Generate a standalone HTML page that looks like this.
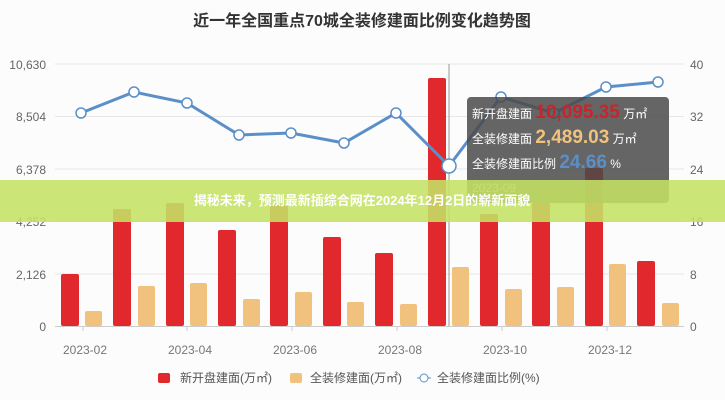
<!DOCTYPE html>
<html><head><meta charset="utf-8"><style>
body{margin:0;background:#fff;}
svg text{font-family:"Liberation Sans","Noto Sans CJK SC",sans-serif;}
</style></head><body>
<svg width="725" height="400" viewBox="0 0 725 400" xmlns="http://www.w3.org/2000/svg">
<rect width="725" height="400" fill="#fcfcfd"/>
<text x="362" y="26" text-anchor="middle" font-size="16" font-weight="bold" fill="#333">近一年全国重点70城全装修建面比例变化趋势图</text>
<g stroke="#e6e6e6" stroke-width="1">
<line x1="55" y1="64" x2="684" y2="64"/><line x1="55" y1="116.5" x2="684" y2="116.5"/>
<line x1="55" y1="169" x2="684" y2="169"/><line x1="55" y1="221.5" x2="684" y2="221.5"/>
<line x1="55" y1="274" x2="684" y2="274"/>
</g>
<line x1="55" y1="326.5" x2="684" y2="326.5" stroke="#ccc"/>
<g stroke="#ccc"><line x1="83" y1="326" x2="83" y2="331"/><line x1="187" y1="326" x2="187" y2="331"/><line x1="292" y1="326" x2="292" y2="331"/><line x1="397" y1="326" x2="397" y2="331"/><line x1="502" y1="326" x2="502" y2="331"/><line x1="607" y1="326" x2="607" y2="331"/></g>
<g font-size="12" fill="#666" text-anchor="end">
<text x="46" y="69">10,630</text><text x="46" y="121">8,504</text><text x="46" y="174">6,378</text><text x="46" y="226">4,252</text><text x="46" y="279">2,126</text><text x="46" y="331">0</text>
</g>
<g font-size="12" fill="#666" text-anchor="start">
<text x="690" y="69">40</text><text x="690" y="121">32</text><text x="690" y="174">24</text><text x="690" y="226">16</text><text x="690" y="279">8</text><text x="690" y="331">0</text>
</g>
<g font-size="12" fill="#777" text-anchor="middle">
<text x="85" y="354">2023-02</text><text x="190" y="354">2023-04</text><text x="295" y="354">2023-06</text><text x="400" y="354">2023-08</text><text x="505" y="354">2023-10</text><text x="610" y="354">2023-12</text>
</g>
<g fill="#e0282d">
<rect x="61" y="274" width="18" height="52" rx="2"/><rect x="113" y="209" width="18" height="117" rx="2"/>
<rect x="166" y="203" width="18" height="123" rx="2"/><rect x="218" y="230" width="18" height="96" rx="2"/>
<rect x="270" y="205" width="18" height="121" rx="2"/><rect x="323" y="237" width="18" height="89" rx="2"/>
<rect x="375" y="253" width="18" height="73" rx="2"/><rect x="428" y="78" width="18" height="248" rx="2"/>
<rect x="480" y="214" width="18" height="112" rx="2"/><rect x="532" y="203" width="18" height="123" rx="2"/>
<rect x="585" y="168" width="18" height="158" rx="2"/><rect x="637" y="261" width="18" height="65" rx="2"/>
</g>
<g fill="#f1c27d">
<rect x="85" y="311" width="17" height="15" rx="2"/><rect x="138" y="286" width="17" height="40" rx="2"/>
<rect x="190" y="283" width="17" height="43" rx="2"/><rect x="243" y="299" width="17" height="27" rx="2"/>
<rect x="295" y="292" width="17" height="34" rx="2"/><rect x="347" y="302" width="17" height="24" rx="2"/>
<rect x="400" y="304" width="17" height="22" rx="2"/><rect x="452" y="267" width="17" height="59" rx="2"/>
<rect x="505" y="289" width="17" height="37" rx="2"/><rect x="557" y="287" width="17" height="39" rx="2"/>
<rect x="609" y="264" width="17" height="62" rx="2"/><rect x="662" y="303" width="17" height="23" rx="2"/>
</g>
<line x1="449" y1="64" x2="449" y2="326" stroke="#999" stroke-width="1"/>
<polyline fill="none" stroke="#5b8fc7" stroke-width="3" points="81,113 134,92 187,103 239,135 291,133 344,143 396,113 449,166 501,97 554,113 606,87 658,82"/>
<g fill="#fff" stroke="#5b8fc7" stroke-width="1.5">
<circle cx="81" cy="113" r="5"/><circle cx="134" cy="92" r="5"/><circle cx="187" cy="103" r="5"/><circle cx="239" cy="135" r="5"/><circle cx="291" cy="133" r="5"/><circle cx="344" cy="143" r="5"/><circle cx="396" cy="113" r="5"/><circle cx="449" cy="166" r="7"/><circle cx="501" cy="97" r="5"/><circle cx="554" cy="113" r="5"/><circle cx="606" cy="87" r="5"/><circle cx="658" cy="82" r="5"/>
</g>
<rect x="467" y="97" width="202" height="106" rx="4" fill="#4a4a4a" fill-opacity="0.85"/>
<text x="472" y="118" font-size="12" fill="#fff">新开盘建面 <tspan font-size="19" font-weight="bold" fill="#c7252b">10,095.35</tspan> 万㎡</text>
<text x="472" y="143" font-size="12" fill="#fff">全装修建面 <tspan font-size="19" font-weight="bold" fill="#f1c27d">2,489.03</tspan> 万㎡</text>
<text x="472" y="168" font-size="12" fill="#fff">全装修建面比例 <tspan font-size="19" font-weight="bold" fill="#5b8fc7">24.66</tspan> %</text>
<text x="472" y="192" font-size="12" fill="#ccc">2023-09</text>
<rect x="0" y="180" width="725" height="42" fill="#c4e164" fill-opacity="0.88"/>
<text x="362" y="205" text-anchor="middle" font-size="13" font-weight="bold" fill="#fff">揭秘未来，预测最新插综合网在2024年12月2日的崭新面貌</text>
<rect x="158" y="373" width="12" height="10" rx="2" fill="#e0282d"/>
<text x="180" y="382" font-size="12" fill="#555">新开盘建面(万㎡)</text>
<rect x="290" y="373" width="12" height="10" rx="2" fill="#f1c27d"/>
<text x="310" y="382" font-size="12" fill="#555">全装修建面(万㎡)</text>
<line x1="417" y1="378" x2="431" y2="378" stroke="#5b8fc7"/><circle cx="424" cy="378" r="4" fill="#fff" stroke="#5b8fc7"/>
<text x="437" y="382" font-size="12" fill="#555">全装修建面比例(%)</text>
</svg>
</body></html>
